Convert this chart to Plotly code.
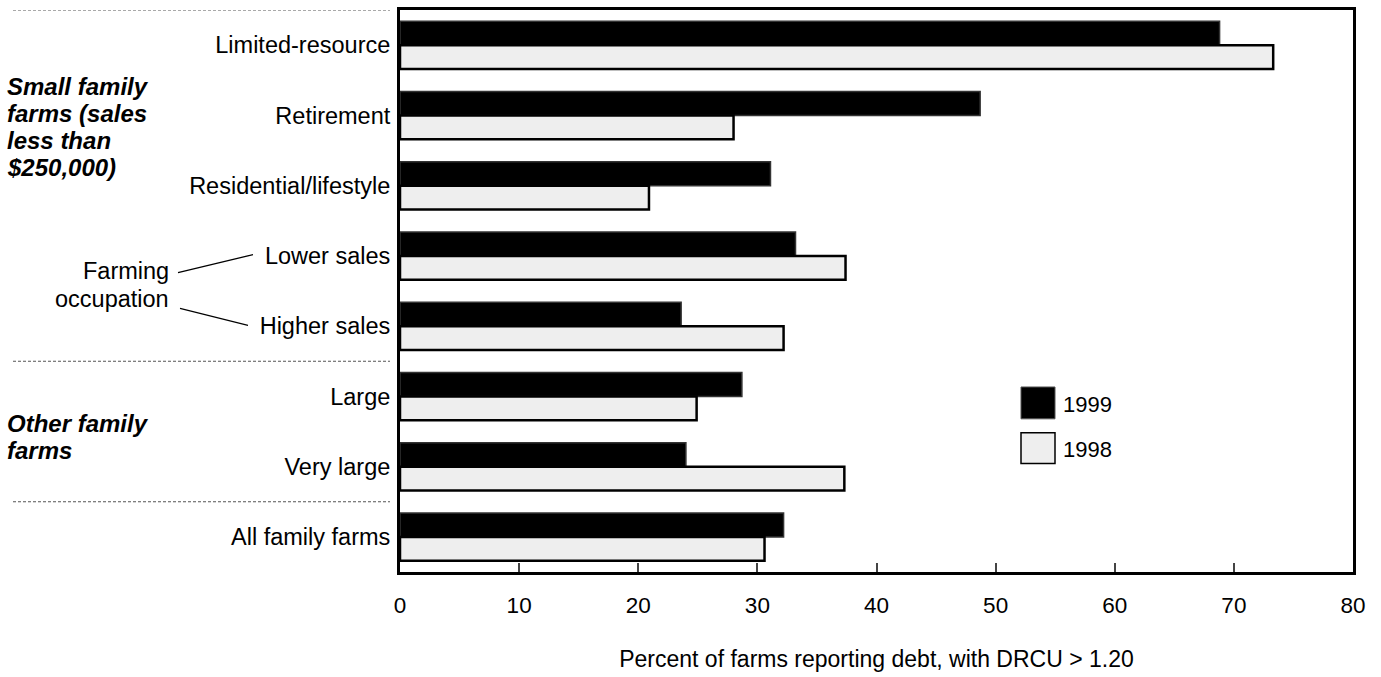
import plotly.graph_objects as go

categories = ["Limited-resource", "Retirement", "Residential/lifestyle", "Lower sales",
              "Higher sales", "Large", "Very large", "All family farms"]
values_1999 = [68.8, 48.7, 31.1, 33.2, 23.6, 28.7, 24.0, 32.2]
values_1998 = [73.3, 28.0, 20.9, 37.4, 32.2, 24.9, 37.3, 30.6]
x_ticks = [0, 10, 20, 30, 40, 50, 60, 70, 80]

W, H = 1381, 677
L, R, T, B = 400, 28, 7, 105
PW, PH = W - L - R, H - T - B
FONT = "Liberation Sans, Arial, sans-serif"


def px(x):
    return (x - L) / PW


def py(y):
    return (H - B - y) / PH


fig = go.Figure()
fig.add_trace(go.Bar(y=categories, x=values_1999, orientation="h", name="1999",
                     marker=dict(color="black", line=dict(color="#333333", width=1.5))))
fig.add_trace(go.Bar(y=categories, x=values_1998, orientation="h", name="1998",
                     marker=dict(color="#eeeeee", line=dict(color="black", width=2.5))))

shapes = []
# dashed group separators
for yv in [-0.5, 4.5, 6.5]:
    shapes.append(dict(type="line", xref="paper", yref="y", x0=px(13), x1=px(390), y0=yv, y1=yv,
                       line=dict(color="#555555", width=1, dash="3px,2px")))
# leader lines for "Farming occupation"
shapes.append(dict(type="line", xref="paper", yref="paper", x0=px(178), y0=py(271), x1=px(253), y1=py(253),
                   line=dict(color="black", width=1.2)))
shapes.append(dict(type="line", xref="paper", yref="paper", x0=px(180), y0=py(307), x1=px(248), y1=py(324),
                   line=dict(color="black", width=1.2)))
# legend boxes
shapes.append(dict(type="rect", xref="paper", yref="paper", x0=px(1021), x1=px(1055), y0=py(418), y1=py(386),
                   fillcolor="black", line=dict(color="#555555", width=1)))
shapes.append(dict(type="rect", xref="paper", yref="paper", x0=px(1021), x1=px(1055), y0=py(463), y1=py(432),
                   fillcolor="#eeeeee", line=dict(color="black", width=1.5)))

annotations = []
bi_font = dict(family=FONT, size=24, color="black")
for text, yc in [("Small family", 84), ("farms (sales", 111), ("less than", 138), ("$250,000)", 165),
                 ("Other family", 423), ("farms", 450)]:
    annotations.append(dict(text="<b><i>" + text + "</i></b>", xref="paper", yref="paper",
                            x=px(5), y=py(yc), xanchor="left", yanchor="middle", showarrow=False,
                            font=bi_font))
for text, yc in [("Farming", 269), ("occupation", 298)]:
    annotations.append(dict(text=text, xref="paper", yref="paper", x=px(171), y=py(yc),
                            xanchor="right", yanchor="middle", showarrow=False,
                            font=dict(family=FONT, size=23.5, color="black")))
for text, yc in [("1999", 404), ("1998", 449)]:
    annotations.append(dict(text=text, xref="paper", yref="paper", x=px(1061), y=py(yc),
                            xanchor="left", yanchor="middle", showarrow=False,
                            font=dict(family=FONT, size=22, color="black")))

fig.update_layout(
    width=W, height=H,
    margin=dict(l=L, r=R, t=T, b=B),
    barmode="group", bargap=0.32, bargroupgap=0,
    showlegend=False,
    plot_bgcolor="white", paper_bgcolor="white",
    font=dict(family=FONT, size=22.5, color="black"),
    shapes=shapes, annotations=annotations,
    xaxis=dict(range=[0, 80], tickvals=x_ticks, ticktext=[str(v) for v in x_ticks],
               ticks="inside", ticklen=9, tickwidth=1.5, tickcolor="#444444",
               showline=True, linewidth=3, linecolor="black", mirror=True,
               showgrid=False, zeroline=False, tickfont=dict(size=22.5),
               ticklabelstandoff=11,
               title=dict(text="Percent of farms reporting debt, with DRCU > 1.20",
                          font=dict(size=23), standoff=34)),
    yaxis=dict(type="category", categoryorder="array", categoryarray=categories,
               range=[7.5, -0.5], ticks="", showline=True, linewidth=3, linecolor="black",
               mirror=True, showgrid=False, zeroline=False, tickfont=dict(size=23.5),
               ticklabelstandoff=2),
)

fig.write_html("out.html", config={"displayModeBar": False},
               post_script="document.body.style.margin='0';")
